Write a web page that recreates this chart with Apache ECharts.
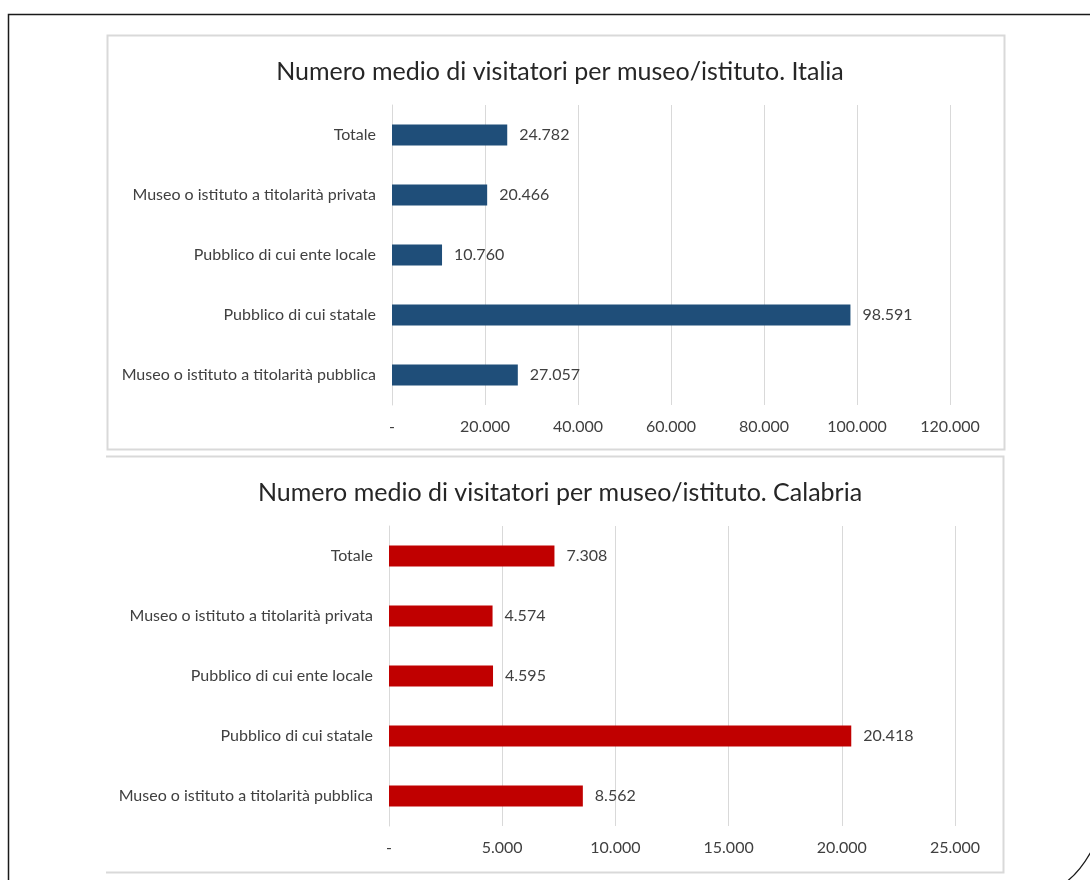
<!DOCTYPE html>
<html>
<head>
<meta charset="utf-8">
<script src="https://cdn.jsdelivr.net/npm/echarts@6/dist/echarts.min.js"></script>
<style>
html,body{margin:0;padding:0;background:#fff;}
#chart{width:1090px;height:880px;}
</style>
</head>
<body>
<div id="chart"></div>
<script>
var categories = ['Totale', 'Museo o istituto a titolarità privata', 'Pubblico di cui ente locale', 'Pubblico di cui statale', 'Museo o istituto a titolarità pubblica'];
var italiaValues = [24782, 20466, 10760, 98591, 27057];
var calabriaValues = [7308, 4574, 4595, 20418, 8562];
var italiaTicks = { min: 0, max: 120000, interval: 20000 };
var calabriaTicks = { min: 0, max: 25000, interval: 5000 };
var titles = ['Numero medio di visitatori per museo/istituto. Italia', 'Numero medio di visitatori per museo/istituto. Calabria'];

function fmt(v) {
  if (v === 0) return '-';
  return String(Math.round(v)).replace(/\B(?=(\d{3})+(?!\d))/g, '.');
}

var FONT = 'Lato';
var chart = echarts.init(document.getElementById('chart'), null, { renderer: 'canvas' });

function yAxis(gi) {
  return {
    type: 'category', gridIndex: gi, data: categories, inverse: true,
    axisLine: { show: true, lineStyle: { color: '#d9d9d9' } },
    axisTick: { show: false },
    axisLabel: { color: '#404040', fontFamily: FONT, fontSize: 16, margin: 16 }
  };
}
function xAxis(gi, t) {
  return {
    type: 'value', gridIndex: gi, min: t.min, max: t.max, interval: t.interval,
    axisLine: { show: false }, axisTick: { show: false },
    splitLine: { show: true, lineStyle: { color: '#d9d9d9', width: 1 } },
    axisLabel: { color: '#404040', fontFamily: FONT, fontSize: 16, margin: 14, formatter: fmt }
  };
}
function series(gi, data, color) {
  return {
    type: 'bar', xAxisIndex: gi, yAxisIndex: gi, data: data, barWidth: 21,
    itemStyle: { color: color },
    label: { show: true, position: 'right', distance: 12, color: '#404040', fontFamily: FONT, fontSize: 16,
      formatter: function (p) { return fmt(p.value); } }
  };
}

chart.setOption({
  animation: false,
  backgroundColor: '#fff',
  title: [
    { text: titles[0], left: 555, top: 54, textAlign: 'center', textStyle: { fontFamily: FONT, fontSize: 25, fontWeight: 'normal', color: '#262626' } },
    { text: titles[1], left: 555, top: 475, textAlign: 'center', textStyle: { fontFamily: FONT, fontSize: 25, fontWeight: 'normal', color: '#262626' } }
  ],
  grid: [
    { left: 392, width: 558, top: 105, height: 300 },
    { left: 389, width: 566, top: 526, height: 300 }
  ],
  xAxis: [xAxis(0, italiaTicks), xAxis(1, calabriaTicks)],
  yAxis: [yAxis(0), yAxis(1)],
  series: [series(0, italiaValues, '#1f4e79'), series(1, calabriaValues, '#c00000')],
  graphic: [
    { type: 'rect', shape: { x: 107.5, y: 35.5, width: 897, height: 414 }, style: { fill: 'none', stroke: '#d9d9d9', lineWidth: 2 }, z: -1 },
    { type: 'polyline', shape: { points: [[106, 456.5], [1003.5, 456.5], [1003.5, 872.5], [106, 872.5]] }, style: { fill: 'none', stroke: '#d9d9d9', lineWidth: 2 }, z: -1 },
    { type: 'polyline', shape: { points: [[1092, 14.5], [8.5, 14.5], [8.5, 882]] }, style: { fill: 'none', stroke: '#1a1a1a', lineWidth: 1.5 } },
    { type: 'bezierCurve', shape: { x1: 1066, y1: 882, x2: 1092, y2: 850, cpx1: 1080, cpy1: 872 }, style: { fill: 'none', stroke: '#1a1a1a', lineWidth: 1.2 } }
  ]
});
</script>
</body>
</html>
